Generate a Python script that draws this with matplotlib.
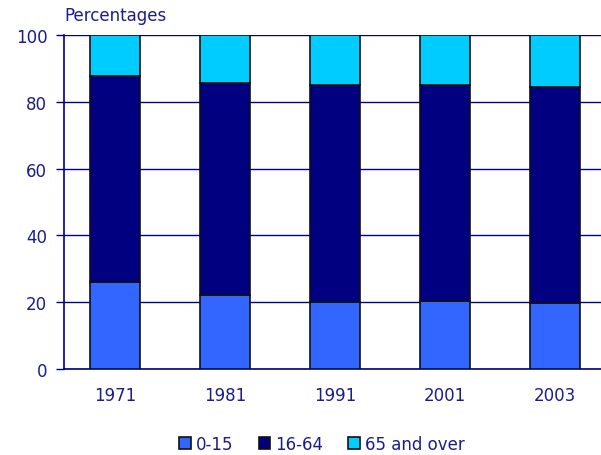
import numpy as np
import matplotlib
matplotlib.use("Agg")
import matplotlib.pyplot as plt

# values (percent of population)
years = ["1971", "1981", "1991", "2001", "2003"]
age_0_15 = [26.0, 22.3, 20.2, 20.3, 19.8]
age_16_64 = [61.6, 63.2, 64.7, 64.7, 64.5]
age_65_over = [12.4, 14.5, 15.1, 15.0, 15.7]

NAVY = "#000080"
TXT = "#1c1c8a"
FS = 12

fig = plt.figure(figsize=(6.01, 4.56), dpi=100)
ax = fig.add_axes([64 / 601, 1 - 370 / 456, 1 - 64 / 601, (370 - 36) / 456])

x = np.arange(len(years))
w = 0.46
b1 = np.array(age_0_15)
b2 = b1 + np.array(age_16_64)

ax.bar(x, age_0_15, w, color="#3366ff", edgecolor="#111111", linewidth=1.2, label="0-15", zorder=3)
ax.bar(x, age_16_64, w, bottom=b1, color=NAVY, edgecolor="#111111", linewidth=1.2, label="16-64", zorder=3)
ax.bar(x, age_65_over, w, bottom=b2, color="#00ccff", edgecolor="#111111", linewidth=1.2, label="65 and over", zorder=3)

ax.set_xlim(-0.465, 4.42)
ax.set_ylim(0, 100)
ax.set_yticks([0, 20, 40, 60, 80, 100])
ax.set_xticks(x)
ax.set_xticklabels(years)
ax.yaxis.grid(True, color=NAVY, linewidth=1, zorder=0)
ax.set_axisbelow(True)

for s in ["top", "right"]:
    ax.spines[s].set_visible(False)
for s in ["left", "bottom"]:
    ax.spines[s].set_color(NAVY)
    ax.spines[s].set_linewidth(1.2)

ax.tick_params(axis="y", colors=NAVY, labelcolor=TXT, labelsize=FS, length=6, width=1, pad=6)
ax.tick_params(axis="x", length=0, labelcolor=TXT, labelsize=FS, pad=12)

fig.text(64 / 601, 1 - 16 / 456, "Percentages", color=TXT, fontsize=FS, ha="left", va="center")

fig.legend(loc="center", bbox_to_anchor=(322 / 601, 1 - 445 / 456), ncol=3, frameon=False,
           fontsize=FS, labelcolor=TXT, handlelength=0.7, handleheight=0.7,
           handletextpad=0.3, columnspacing=1.5)

fig.savefig("out.png", dpi=100)
